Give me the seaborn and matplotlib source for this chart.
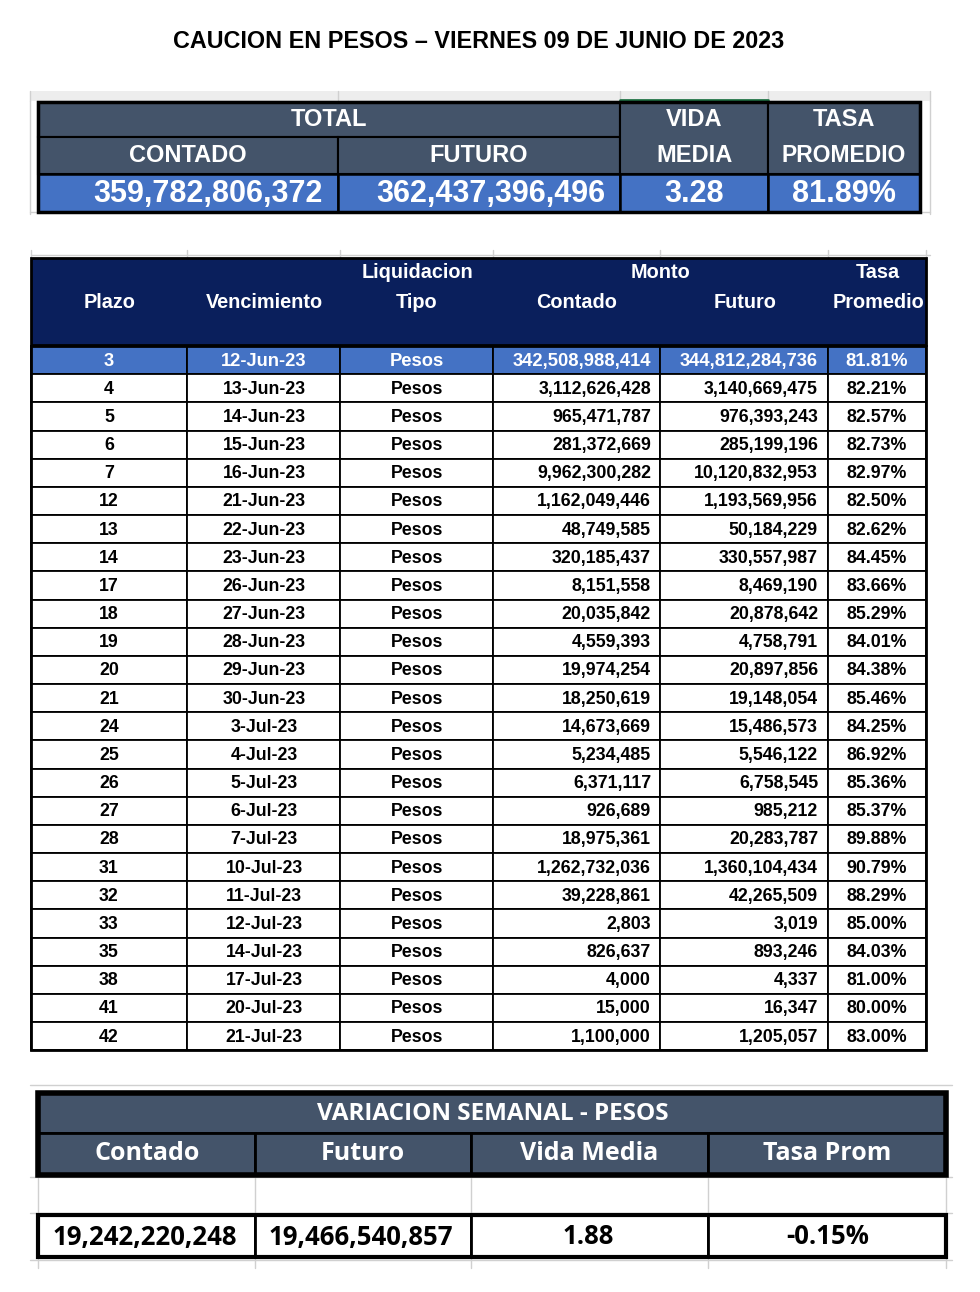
import matplotlib
matplotlib.use("Agg")
import matplotlib.pyplot as plt
import seaborn as sns
from matplotlib.patches import Rectangle

# resumen total
total_contado = 359782806372
total_futuro = 362437396496
total_vida_media = 3.28
total_tasa = 81.89

# detalle por plazo
plazo = [3, 4, 5, 6, 7, 12, 13, 14, 17, 18, 19, 20, 21, 24, 25, 26, 27, 28, 31, 32, 33, 35, 38, 41, 42]
vencimiento = ["12-Jun-23", "13-Jun-23", "14-Jun-23", "15-Jun-23", "16-Jun-23", "21-Jun-23",
               "22-Jun-23", "23-Jun-23", "26-Jun-23", "27-Jun-23", "28-Jun-23", "29-Jun-23",
               "30-Jun-23", "3-Jul-23", "4-Jul-23", "5-Jul-23", "6-Jul-23", "7-Jul-23",
               "10-Jul-23", "11-Jul-23", "12-Jul-23", "14-Jul-23", "17-Jul-23", "20-Jul-23",
               "21-Jul-23"]
tipo = ["Pesos"] * 25
monto_contado = [342508988414, 3112626428, 965471787, 281372669, 9962300282, 1162049446,
                 48749585, 320185437, 8151558, 20035842, 4559393, 19974254, 18250619,
                 14673669, 5234485, 6371117, 926689, 18975361, 1262732036, 39228861,
                 2803, 826637, 4000, 15000, 1100000]
monto_futuro = [344812284736, 3140669475, 976393243, 285199196, 10120832953, 1193569956,
                50184229, 330557987, 8469190, 20878642, 4758791, 20897856, 19148054,
                15486573, 5546122, 6758545, 985212, 20283787, 1360104434, 42265509,
                3019, 893246, 4337, 16347, 1205057]
tasa = [81.81, 82.21, 82.57, 82.73, 82.97, 82.50, 82.62, 84.45, 83.66, 85.29, 84.01, 84.38,
        85.46, 84.25, 86.92, 85.36, 85.37, 89.88, 90.79, 88.29, 85.00, 84.03, 81.00, 80.00,
        83.00]

# variacion semanal
var_contado = 19242220248
var_futuro = 19466540857
var_vida_media = 1.88
var_tasa = -0.15

SLATE = "#44546A"
BLUE = "#4472C4"
NAVY = "#0A1F5C"
GRID = "#D0D0D0"
ARIAL = ["Liberation Sans", "DejaVu Sans"]
CALIBRI = ["Open Sans", "DejaVu Sans"]

sns.set_theme(style="white")

fig = plt.figure(figsize=(9.8, 12.92), dpi=100)
ax = fig.add_axes([0, 0, 1, 1])
ax.set_xlim(0, 980)
ax.set_ylim(1292, 0)
ax.axis("off")


def box(x0, x1, y0, y1, face="none", lw=1.5, edge="black", z=2):
    ax.add_patch(Rectangle((x0, y0), x1 - x0, y1 - y0, facecolor=face,
                           edgecolor=edge, linewidth=lw, zorder=z))


def txt(x, y, s, size, color="black", ha="center", family=ARIAL, weight="bold"):
    ax.text(x, y, s, fontsize=size, color=color, ha=ha, va="center",
            family=family, fontweight=weight, zorder=5)


# titulo
txt(479, 41, "CAUCION EN PESOS \u2013 VIERNES 09 DE JUNIO DE 2023", 16.8)

# ---- tabla resumen ----
ax.add_patch(Rectangle((30, 91), 900, 10, facecolor="#EDEDED", edgecolor="none", zorder=1))
for gx in [30, 338, 620, 768, 930]:
    ax.plot([gx, gx], [91, 101], color=GRID, lw=1, zorder=1)
ax.plot([620, 768], [100, 100], color="#217346", lw=2, zorder=1)
ax.plot([30, 930], [212, 212], color=GRID, lw=1, zorder=1)
for gx in [30, 930]:
    ax.plot([gx, gx], [101, 214], color=GRID, lw=1, zorder=1)

top_cols = [38, 338, 620, 768, 920]
box(38, 620, 102, 137, SLATE)
box(38, 338, 137, 174, SLATE)
box(338, 620, 137, 174, SLATE)
box(620, 768, 102, 174, SLATE)
box(768, 920, 102, 174, SLATE)
for i in range(4):
    box(top_cols[i], top_cols[i + 1], 174, 212, BLUE, lw=1.8)
box(38, 920, 102, 212, "none", lw=2.5, z=3)

txt(329, 120, "TOTAL", 17, "white")
txt(188, 156, "CONTADO", 17, "white")
txt(479, 156, "FUTURO", 17, "white")
txt(694, 120, "VIDA", 17, "white")
txt(694, 156, "MEDIA", 17, "white")
txt(844, 120, "TASA", 17, "white")
txt(844, 156, "PROMEDIO", 16.5, "white")
txt(323, 194, f"{total_contado:,}", 22, "white", ha="right")
txt(605, 194, f"{total_futuro:,}", 22, "white", ha="right")
txt(694, 194, f"{total_vida_media:.2f}", 22, "white")
txt(844, 194, f"{total_tasa:.2f}%", 22, "white")

# ---- tabla detalle ----
cols = [31, 187, 340, 493, 660, 828, 926]
ax.plot([31, 930], [255, 255], color=GRID, lw=1, zorder=1)
for gx in cols:
    ax.plot([gx, gx], [250, 258], color=GRID, lw=1, zorder=1)
box(31, 926, 258, 345, NAVY, lw=2)
txt(110, 302, "Plazo", 14.3, "white")
txt(264, 302, "Vencimiento", 14.3, "white")
txt(417, 273, "Liquidacion", 14.3, "white")
txt(417, 302, "Tipo", 14.3, "white")
txt(660, 273, "Monto", 14.3, "white")
txt(577, 302, "Contado", 14.3, "white")
txt(745, 302, "Futuro", 14.3, "white")
txt(878, 273, "Tasa", 14.3, "white")
txt(878, 302, "Promedio", 14.3, "white")

y_top = 346
row_h = 28.17
for i in range(len(plazo)):
    y0 = y_top + i * row_h
    y1 = y0 + row_h
    yc = (y0 + y1) / 2 + 1
    first = i == 0
    face = BLUE if first else "white"
    color = "white" if first else "black"
    size = 13.2 if first else 12.8
    for c in range(6):
        box(cols[c], cols[c + 1], y0, y1, face, lw=1.3)
    txt(109, yc, str(plazo[i]), size, color)
    txt(264, yc, vencimiento[i], size, color)
    txt(417, yc, tipo[i], size, color)
    txt(651, yc, f"{monto_contado[i]:,}", size, color, ha="right")
    txt(818, yc, f"{monto_futuro[i]:,}", size, color, ha="right")
    txt(877, yc, f"{tasa[i]:.2f}%", size, color)
box(31, 926, y_top, y_top + len(plazo) * row_h, "none", lw=2, z=3)

# ---- variacion semanal ----
bcols = [38, 255, 471, 708, 946]
for gx in bcols:
    ax.plot([gx, gx], [1175, 1268], color=GRID, lw=1, zorder=1)
for gy in [1085, 1177, 1213, 1260]:
    ax.plot([30, 952], [gy, gy], color=GRID, lw=1, zorder=1)
box(38, 946, 1093, 1133, SLATE, lw=2)
for i in range(4):
    box(bcols[i], bcols[i + 1], 1133, 1175, SLATE, lw=2)
box(38, 946, 1093, 1175, "none", lw=4, z=3)
txt(493, 1114, "VARIACION SEMANAL - PESOS", 17.5, "white", family=CALIBRI)
txt(147, 1154, "Contado", 18, "white", family=CALIBRI)
txt(363, 1154, "Futuro", 18, "white", family=CALIBRI)
txt(589, 1154, "Vida Media", 18, "white", family=CALIBRI)
txt(827, 1154, "Tasa Prom", 18, "white", family=CALIBRI)

for i in range(4):
    box(bcols[i], bcols[i + 1], 1215, 1257, "white", lw=2)
box(38, 946, 1215, 1257, "none", lw=3, z=3)
txt(145, 1237, f"{var_contado:,}", 18.5, family=CALIBRI)
txt(361, 1237, f"{var_futuro:,}", 18.5, family=CALIBRI)
txt(588, 1237, f"{var_vida_media:.2f}", 18.5, family=CALIBRI)
txt(828, 1237, f"{var_tasa:.2f}%", 18.5, family=CALIBRI)

fig.savefig("out.png", dpi=100)
